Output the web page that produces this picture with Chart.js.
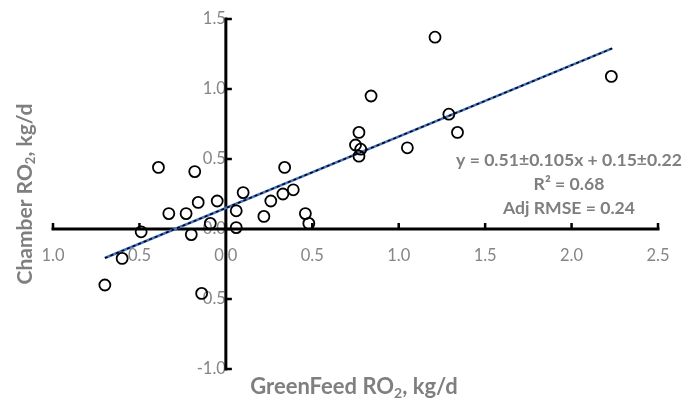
<!DOCTYPE html>
<html>
<head>
<meta charset="utf-8">
<script src="https://cdn.jsdelivr.net/npm/chart.js@4/dist/chart.umd.min.js"></script>
<style>
  html, body { margin: 0; padding: 0; background: #fff; }
  #wrap { width: 697px; height: 400px; position: relative; }
</style>
</head>
<body>
<div id="wrap"><canvas id="rChart"></canvas></div>
<script>
// GreenFeed vs Chamber RO2 (kg/d)
const greenFeed = [-0.70, -0.60, -0.49, -0.39, -0.33, -0.23, -0.20, -0.18, -0.16, -0.14, -0.09, -0.05,
                   0.06, 0.06, 0.10, 0.22, 0.26, 0.33, 0.34, 0.39, 0.46, 0.48,
                   0.75, 0.77, 0.77, 0.78, 0.84, 1.05, 1.21, 1.29, 1.34, 2.23];
const chamber   = [-0.40, -0.21, -0.02, 0.44, 0.11, 0.11, -0.04, 0.41, 0.19, -0.46, 0.04, 0.20,
                   0.13, 0.01, 0.26, 0.09, 0.20, 0.25, 0.44, 0.28, 0.11, 0.04,
                   0.60, 0.52, 0.69, 0.57, 0.95, 0.58, 1.37, 0.82, 0.69, 1.09];

// regression line y = slope*x + intercept, drawn over the range of the data
const fitSlope = 0.51;
const fitIntercept = 0.15;
const fitRange = [-0.70, 2.235];

const xTicks = [-1.0, -0.5, 0.0, 0.5, 1.0, 1.5, 2.0, 2.5];
const xTickLabels = ['1.0', '0.5', '0.0', '0.5', '1.0', '1.5', '2.0', '2.5'];
const yTicks = [-1.0, -0.5, 0.0, 0.5, 1.0, 1.5];
const yTickLabels = ['-1.0', '-0.5', '0.0', '0.5', '1.0', '1.5'];

const statLines = ['y = 0.51\u00b10.105x + 0.15\u00b10.22', 'R\u00b2 = 0.68', 'Adj RMSE = 0.24'];

const FONT = 'Lato, "Open Sans", sans-serif';
const GREY = '#7f7f7f';

const points = greenFeed.map((v, i) => ({ x: v, y: chamber[i] }));
const fitLine = fitRange.map(v => ({ x: v, y: fitSlope * v + fitIntercept }));

// draws "before" + subscript + "after", centred on the current origin
function drawSubText(ctx, parts, size) {
    const big = `bold ${size}px ${FONT}`;
    const small = `bold ${Math.round(size * 0.62)}px ${FONT}`;
    ctx.font = big;
    const w1 = ctx.measureText(parts[0]).width;
    const w3 = ctx.measureText(parts[2]).width;
    ctx.font = small;
    const w2 = ctx.measureText(parts[1]).width;
    let x = -(w1 + w2 + w3) / 2;
    ctx.textAlign = 'left';
    ctx.textBaseline = 'middle';
    ctx.font = big;
    ctx.fillText(parts[0], x, 0);
    x += w1;
    ctx.font = small;
    ctx.fillText(parts[1], x, size * 0.28);
    x += w2;
    ctx.font = big;
    ctx.fillText(parts[2], x, 0);
}

const crossAxes = {
    id: 'crossAxes',
    beforeDatasetsDraw(chart) {
        const { ctx, scales: { x, y } } = chart;
        const x0 = x.getPixelForValue(0);
        const y0 = y.getPixelForValue(0);
        ctx.save();
        ctx.strokeStyle = '#000';
        ctx.lineWidth = 3;
        ctx.lineCap = 'butt';
        ctx.beginPath();
        ctx.moveTo(x.getPixelForValue(xTicks[0]) - 1.5, y0);
        ctx.lineTo(x.getPixelForValue(xTicks[xTicks.length - 1]) + 1.5, y0);
        ctx.moveTo(x0, y.getPixelForValue(yTicks[0]) + 1.5);
        ctx.lineTo(x0, y.getPixelForValue(yTicks[yTicks.length - 1]) - 1.5);
        ctx.stroke();
        // tick marks: up from the x axis, right of the y axis
        ctx.lineWidth = 2.5;
        ctx.beginPath();
        xTicks.forEach(v => {
            const px = x.getPixelForValue(v);
            ctx.moveTo(px, y0);
            ctx.lineTo(px, y0 - 6);
        });
        yTicks.forEach(v => {
            const py = y.getPixelForValue(v);
            ctx.moveTo(x0, py);
            ctx.lineTo(x0 + 6, py);
        });
        ctx.stroke();
        ctx.restore();
    },
    afterDraw(chart) {
        const { ctx, scales: { x } } = chart;
        ctx.save();
        ctx.fillStyle = GREY;

        // axis titles
        ctx.save();
        ctx.translate(354, 387);
        drawSubText(ctx, ['GreenFeed RO', '2', ', kg/d'], 22);
        ctx.restore();

        ctx.save();
        ctx.translate(25, 194);
        ctx.rotate(-Math.PI / 2);
        drawSubText(ctx, ['Chamber RO', '2', ', kg/d'], 21);
        ctx.restore();

        // fit statistics
        ctx.font = `bold 17.6px ${FONT}`;
        ctx.textAlign = 'center';
        ctx.textBaseline = 'middle';
        const cx = x.getPixelForValue(1.985);
        statLines.forEach((t, i) => {
            ctx.fillText(t, cx, 160 + i * 24);
        });
        ctx.restore();
    }
};

const ctx = document.getElementById('rChart');
new Chart(ctx, {
    type: 'scatter',
    data: {
        datasets: [
            {
                label: 'data',
                data: points,
                pointRadius: 5.5,
                pointHoverRadius: 5.5,
                pointBorderWidth: 1.8,
                borderColor: '#000',
                backgroundColor: 'rgba(0,0,0,0)'
            },
            {
                label: 'fit dash',
                data: fitLine,
                showLine: true,
                pointRadius: 0,
                borderColor: '#000',
                borderWidth: 1.5,
                borderDash: [3, 3]
            },
            {
                label: 'fit',
                data: fitLine,
                showLine: true,
                pointRadius: 0,
                borderColor: '#4472C4',
                borderWidth: 2.5
            }
        ]
    },
    options: {
        responsive: true,
        maintainAspectRatio: false,
        animation: false,
        layout: { padding: { left: 53, right: 39, top: 19, bottom: 31 } },
        plugins: {
            legend: { display: false },
            tooltip: { enabled: false }
        },
        scales: {
            x: {
                type: 'linear',
                position: { y: 0 },
                min: -1.0,
                max: 2.5,
                afterBuildTicks: (scale) => { scale.ticks = xTicks.map(v => ({ value: v })); },
                grid: { display: false },
                border: { display: false },
                ticks: {
                    padding: 9,
                    color: '#858585',
                    font: { family: FONT, size: 16.5 },
                    callback: (value, index) => xTickLabels[index]
                }
            },
            y: {
                type: 'linear',
                position: { x: 0 },
                min: -1.0,
                max: 1.5,
                afterBuildTicks: (scale) => { scale.ticks = yTicks.map(v => ({ value: v })); },
                // the label padding must not push the plot area in
                afterFit: (scale) => { scale.paddingTop = 0; scale.paddingBottom = 0; },
                grid: { display: false },
                border: { display: false },
                ticks: {
                    padding: 22,
                    color: '#858585',
                    font: { family: FONT, size: 16.5 },
                    callback: (value, index) => yTickLabels[index]
                }
            }
        }
    },
    plugins: [crossAxes]
});
</script>
</body>
</html>
